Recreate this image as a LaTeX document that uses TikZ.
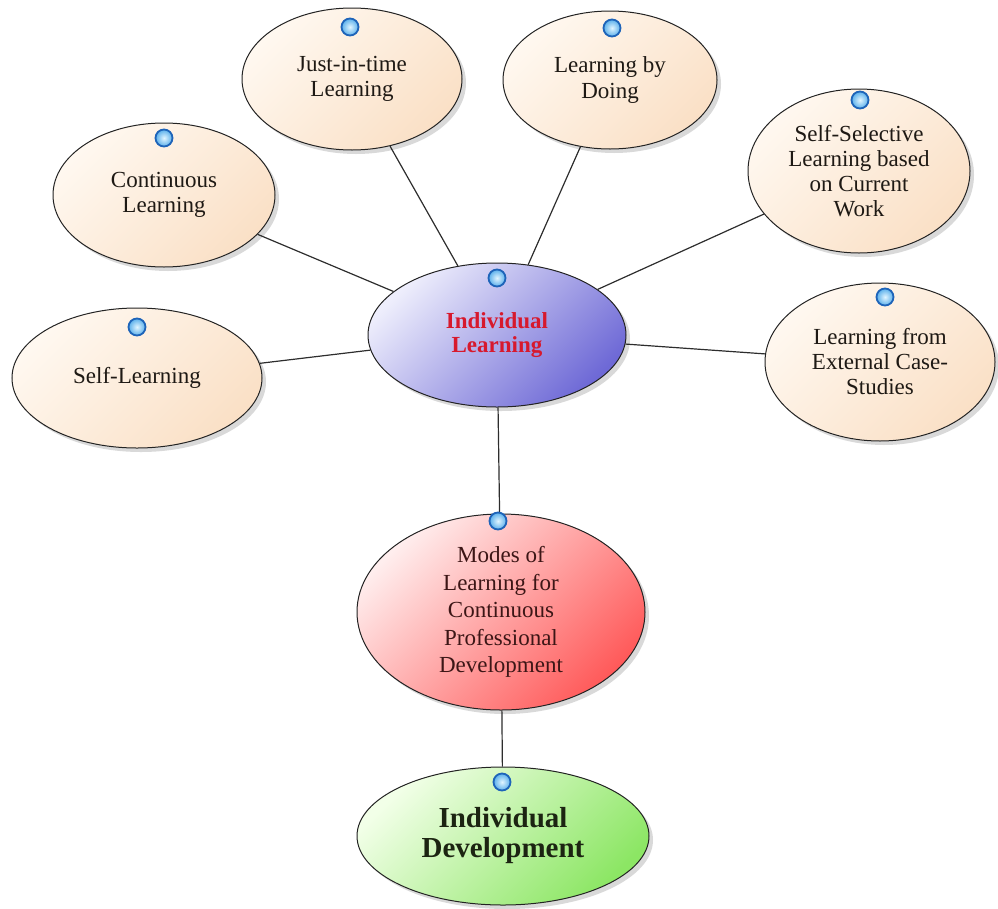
\documentclass[tikz,border=0pt]{standalone}
\usepackage{fontspec}
\setmainfont{Liberation Serif}
\usetikzlibrary{shapes.geometric,shadows}

\definecolor{peachL}{RGB}{255,248,240}
\definecolor{peachD}{RGB}{250,224,198}
\definecolor{blueL}{RGB}{238,238,252}
\definecolor{blueD}{RGB}{110,105,214}
\definecolor{redL}{RGB}{255,238,238}
\definecolor{redD}{RGB}{255,90,90}
\definecolor{greenL}{RGB}{242,255,232}
\definecolor{greenD}{RGB}{140,230,100}
\definecolor{edgec}{RGB}{35,35,35}
\definecolor{txtc}{RGB}{30,25,20}
\definecolor{ilred}{RGB}{215,25,45}
\definecolor{modetxt}{RGB}{60,22,22}
\definecolor{devtxt}{RGB}{28,36,18}
\definecolor{bubEdge}{RGB}{30,100,185}
\definecolor{bubIn}{RGB}{225,245,255}
\definecolor{bubOut}{RGB}{90,175,235}
\definecolor{linkc}{RGB}{45,45,45}

\tikzset{
  bub/.style={ellipse, draw=edgec, line width=1pt, inner sep=0pt, align=center,
    text=txtc, font=\fontsize{23}{25}\selectfont,
    drop shadow={shadow xshift=4pt, shadow yshift=-4pt, opacity=0.15, fill=black}},
  peach/.style={bub, top color=peachL, bottom color=peachD, shading angle=45},
  lavender/.style={bub, top color=blueL, bottom color=blueD, shading angle=45},
  pinkish/.style={bub, top color=redL, bottom color=redD, shading angle=45},
  greenish/.style={bub, top color=greenL, bottom color=greenD, shading angle=45},
  dot/.style={circle, minimum size=17pt, inner sep=0pt, draw=bubEdge,
    line width=1.8pt, inner color=bubIn, outer color=bubOut},
  link/.style={draw=linkc, line width=1.2pt}
}

\begin{document}
\begin{tikzpicture}[x=1pt,y=-1pt]
\useasboundingbox (0,0) rectangle (998,908);

% peripheral nodes
\node[peach, minimum width=220pt, minimum height=142pt] (jit) at (352,79) {Just-in-time\\Learning};
\node[peach, minimum width=214pt, minimum height=138pt] (lbd) at (610,80) {Learning by\\Doing};
\node[peach, minimum width=222pt, minimum height=144pt] (cont) at (164,195) {Continuous\\Learning};
\node[peach, minimum width=222pt, minimum height=164pt] (ssl) at (859,171) {Self-Selective\\Learning based\\on Current\\Work};
\node[peach, minimum width=250pt, minimum height=140pt] (self) at (137,378) {Self-Learning};
\node[peach, minimum width=230pt, minimum height=158pt] (ext) at (880,362) {Learning from\\External Case-\\Studies};

% central node
\node[lavender, minimum width=258pt, minimum height=144pt, text=ilred,
  font=\fontsize{23}{24}\selectfont\bfseries] (il) at (497,335) {Individual\\Learning};

% modes node
\node[pinkish, minimum width=288pt, minimum height=196pt, text=modetxt,
  font=\fontsize{23}{27.5}\selectfont] (modes) at (501,612)
  {Modes of\\Learning for\\Continuous\\Professional\\Development};

% development node
\node[greenish, minimum width=292pt, minimum height=138pt, text=devtxt,
  font=\fontsize{29}{30}\selectfont\bfseries] (dev) at (503,836) {Individual\\Development};

% connectors
\draw[link] (il) -- (jit);
\draw[link] (il) -- (lbd);
\draw[link] (il) -- (cont);
\draw[link] (il) -- (ssl);
\draw[link] (il) -- (self);
\draw[link] (il) -- (ext);
\draw[link] (il) -- (modes);
\draw[link] (modes) -- (dev);

% small blue markers
\node[dot] (djit) at (350,27) {};
\node[dot] (dlbd) at (612,28) {};
\node[dot] (dcont) at (164,138) {};
\node[dot] (dssl) at (860,100) {};
\node[dot] (dself) at (137,327) {};
\node[dot] (dext) at (885,297) {};
\node[dot] (dil) at (497,278) {};
\node[dot] (dmodes) at (498,521) {};
\node[dot] (ddev) at (502,782) {};
\end{tikzpicture}
\end{document}
